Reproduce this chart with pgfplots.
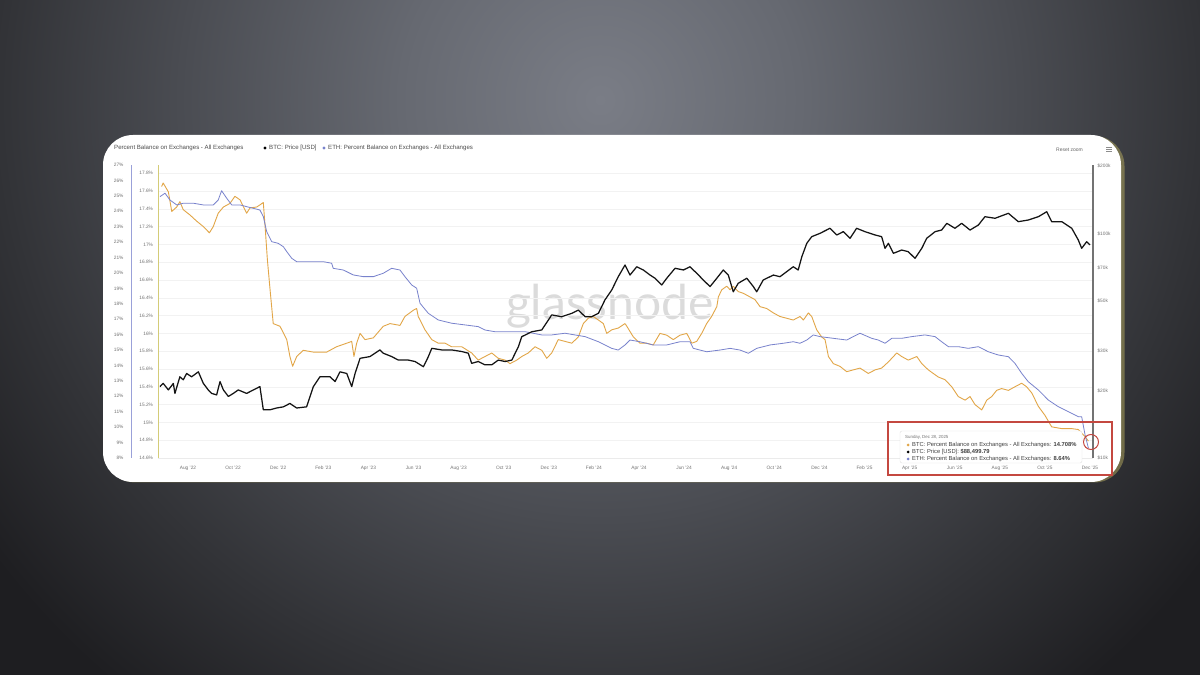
\documentclass[border=0pt]{standalone}
\usepackage{pgfplots}
\pgfplotsset{compat=1.18}
\usepackage{pgfplotstable}
\usepackage{fontspec}
\setmainfont{Liberation Sans}
\newfontfamily\wmfont{Lato}
\definecolor{btcc}{RGB}{226,166,72}
\definecolor{ethc}{RGB}{120,130,204}
\definecolor{bg0}{RGB}{122,125,134}
\definecolor{bg1}{RGB}{102,105,113}
\definecolor{bg2}{RGB}{74,76,82}
\definecolor{bg3}{RGB}{50,51,55}
\definecolor{bg4}{RGB}{30,30,33}
\definecolor{glow}{RGB}{180,170,95}
\definecolor{redbox}{RGB}{196,72,64}
\definecolor{btcaxis}{RGB}{212,204,120}
\pgfdeclareradialshading{bgshade}{\pgfpoint{0bp}{0bp}}{color(0bp)=(bg0); color(5bp)=(bg1); color(10.5bp)=(bg2); color(15bp)=(bg3); color(19bp)=(bg4); color(50bp)=(bg4)}
\newcommand{\tl}{\fontsize{4.8}{5}\selectfont}

\pgfplotstableread{
m v
-1.17 17.65
-1.10 17.69
-0.87 17.59
-0.72 17.37
-0.50 17.42
-0.36 17.48
-0.21 17.39
0.09 17.33
0.39 17.26
0.68 17.20
0.95 17.13
1.12 17.20
1.34 17.35
1.57 17.42
1.86 17.46
2.08 17.54
2.31 17.50
2.60 17.35
2.75 17.41
3.05 17.42
3.34 17.47
3.42 17.20
3.52 16.83
3.64 16.49
3.78 16.11
4.08 16.08
4.38 15.93
4.52 15.74
4.64 15.63
4.82 15.74
5.11 15.81
5.56 15.79
6.15 15.79
6.59 15.85
7.04 15.89
7.26 15.91
7.36 15.74
7.48 15.89
7.63 16.00
7.85 15.93
8.22 15.95
8.66 16.08
8.96 16.11
9.40 16.09
9.62 16.19
9.99 16.26
10.14 16.28
10.21 16.19
10.51 16.04
10.81 15.93
11.10 15.89
11.40 15.89
11.69 15.85
12.14 15.85
12.58 15.78
12.87 15.70
13.17 15.74
13.47 15.78
13.76 15.72
14.06 15.70
14.28 15.66
14.58 15.70
14.80 15.74
15.09 15.78
15.39 15.85
15.69 15.81
15.91 15.72
16.13 15.78
16.42 15.93
16.72 15.91
17.02 15.89
17.31 15.96
17.53 16.11
17.75 16.17
17.97 16.19
18.20 16.15
18.42 16.11
18.57 16.00
18.79 16.04
19.08 16.06
19.38 16.11
19.46 16.08
19.75 15.96
20.04 15.89
20.34 15.89
20.63 15.87
20.93 16.00
21.23 15.98
21.52 15.93
21.82 15.98
22.12 16.00
22.34 15.89
22.56 15.91
22.78 16.00
23.00 16.11
23.22 16.19
23.45 16.30
23.52 16.41
23.67 16.49
23.89 16.53
24.04 16.49
24.18 16.53
24.40 16.47
24.63 16.45
24.92 16.41
25.14 16.38
25.37 16.30
25.66 16.28
25.96 16.23
26.25 16.19
26.55 16.17
26.84 16.15
27.14 16.19
27.29 16.15
27.51 16.23
27.66 16.19
27.88 16.04
28.10 15.96
28.25 15.93
28.40 15.74
28.62 15.66
28.91 15.63
29.21 15.57
29.50 15.59
29.80 15.61
30.17 15.55
30.47 15.59
30.76 15.61
31.06 15.68
31.43 15.78
31.65 15.74
31.94 15.70
32.32 15.74
32.54 15.66
32.83 15.59
33.27 15.51
33.57 15.48
33.87 15.40
34.16 15.29
34.46 15.25
34.68 15.29
34.90 15.20
35.20 15.14
35.42 15.25
35.64 15.29
35.86 15.36
36.08 15.38
36.38 15.36
36.67 15.40
36.97 15.44
37.19 15.40
37.42 15.33
37.71 15.18
38.00 15.08
38.30 14.95
38.75 14.93
39.19 14.93
39.48 14.92
39.78 14.84
39.93 14.79
}\btctab

\pgfplotstableread{
m v
-1.24 24.95
-1.02 25.17
-0.80 24.73
-0.50 24.41
-0.21 24.52
0.24 24.52
0.68 24.41
1.12 24.41
1.34 24.73
1.49 25.33
1.72 24.84
1.94 24.41
2.31 24.41
2.60 24.30
2.90 24.19
3.19 24.08
3.34 23.65
3.49 22.68
3.71 22.03
4.00 21.92
4.23 21.70
4.38 21.38
4.60 20.95
4.82 20.73
5.41 20.73
6.00 20.73
6.37 20.63
6.44 20.30
6.89 20.19
7.33 19.87
7.77 19.76
8.22 19.76
8.66 19.98
9.03 20.30
9.40 20.19
9.62 19.76
9.92 19.22
10.14 19.01
10.29 18.03
10.66 17.38
11.10 16.95
11.69 16.74
12.28 16.63
12.87 16.52
13.17 16.30
13.61 16.19
14.36 16.19
14.95 16.19
15.69 15.98
16.13 15.98
16.72 16.09
17.16 15.98
17.61 15.87
18.20 15.54
18.79 15.11
19.08 15.00
19.38 15.33
19.60 15.65
20.04 15.54
20.63 15.33
21.23 15.33
21.82 15.54
22.26 15.54
22.41 15.11
23.00 14.89
23.59 15.00
24.04 15.11
24.48 15.00
24.85 14.79
25.22 15.11
25.81 15.33
26.40 15.44
26.84 15.54
27.14 15.44
27.44 15.65
27.73 15.98
28.03 15.87
28.62 15.76
29.21 15.65
29.50 15.87
29.80 16.09
30.32 15.76
30.61 15.65
30.91 15.44
31.21 15.76
31.65 15.76
32.09 15.87
32.68 15.98
33.13 15.87
33.42 15.54
33.72 15.22
34.16 15.22
34.60 15.11
35.05 15.22
35.49 14.89
35.93 14.68
36.38 14.57
36.67 14.14
36.97 13.49
37.26 12.95
37.71 12.41
38.15 11.76
38.59 11.33
39.04 11.00
39.48 10.68
39.63 10.68
39.78 9.50
39.93 8.64
}\ethtab

\pgfplotstableread{
m p
-1.24 20.8
-1.10 21.5
-0.87 20.1
-0.65 21.5
-0.58 19.4
-0.36 23.0
-0.21 22.3
-0.06 23.8
0.16 23.0
0.46 24.2
0.68 21.5
0.90 20.1
1.05 19.4
1.27 19.1
1.42 21.9
1.57 20.1
1.79 18.8
2.01 19.4
2.23 20.1
2.60 19.4
2.90 20.1
3.19 20.8
3.34 16.4
3.64 16.4
3.93 16.7
4.23 16.9
4.52 17.5
4.82 16.7
5.26 16.9
5.56 20.8
5.85 23.0
6.30 23.0
6.52 21.9
6.74 24.2
7.04 23.8
7.26 20.8
7.41 23.8
7.63 27.8
8.07 28.3
8.51 30.3
8.66 29.3
9.03 28.3
9.33 27.3
9.77 27.3
10.07 26.9
10.44 25.5
10.66 28.3
10.81 30.8
11.25 30.3
11.69 30.3
12.14 29.8
12.43 29.3
12.58 26.4
12.87 26.9
13.17 26.0
13.47 26.0
13.76 27.3
14.06 26.9
14.36 27.3
14.65 31.3
14.80 34.7
15.24 36.5
15.69 37.2
16.13 43.4
16.57 42.6
17.02 44.1
17.31 45.6
17.61 42.6
17.90 42.6
18.20 44.1
18.49 50.6
18.79 56.0
19.08 64.2
19.38 72.4
19.60 65.3
19.90 71.1
20.19 68.8
20.49 65.3
20.71 63.2
21.01 59.0
21.23 63.2
21.60 70.0
21.97 68.8
22.26 71.1
22.56 66.5
22.85 62.1
23.15 58.0
23.45 63.2
23.74 68.8
23.96 65.3
24.18 55.0
24.40 60.0
24.78 63.2
25.07 58.0
25.22 55.0
25.51 62.1
25.96 65.3
26.25 64.2
26.55 67.6
26.84 71.1
27.06 68.8
27.22 78.8
27.44 90.4
27.66 96.8
28.03 100.2
28.47 105.5
28.77 98.5
29.06 101.9
29.36 95.2
29.65 105.5
30.02 101.9
30.47 98.5
30.76 96.8
30.91 85.9
31.06 90.4
31.28 81.6
31.65 84.4
31.94 83.0
32.24 77.5
32.54 85.9
32.76 95.2
33.13 101.9
33.42 103.6
33.65 111.0
34.01 105.5
34.31 111.0
34.68 103.6
35.05 109.1
35.34 118.8
35.79 116.9
36.38 123.0
36.82 112.9
37.26 114.8
37.71 118.8
38.08 125.0
38.30 112.9
38.75 112.9
39.19 105.5
39.48 93.6
39.63 85.9
39.85 91.9
40.00 89.0
}\pricetab

\pgfplotsset{
  base/.style={
    scale only axis, height=293pt, anchor=south west,
    major tick length=0pt,
    /pgf/number format/assume math mode=true,
    tick label style={font=\tl, text=black!55},
  }
}

\begin{document}
\begin{tikzpicture}
\begin{scope}[x=1pt,y=1pt]
\useasboundingbox (0,0) rectangle (1200,675);
\begin{scope}
  \clip (0,0) rectangle (1200,675);
  \shade[shading=bgshade] (600,575) circle (1000);
\end{scope}
\fill[glow, opacity=0.5, rounded corners=30pt] (105.5,192.5) rectangle (1124.5,539);
\fill[white, rounded corners=30pt] (103,193) rectangle (1121,540);
\node[anchor=base, font=\wmfont\fontsize{48}{48}\selectfont, text=black!14, inner sep=0pt] at (610,355) {glassnode};
\end{scope}

% BTC percent axis (with grid and x labels)
\begin{axis}[base, at={(158pt,217pt)}, width=935pt,
  xmin=-1.330, xmax=40.133, ymin=14.6, ymax=17.892,
  axis y line*=left, axis x line*=bottom,
  y axis line style={draw=btcaxis, line width=1pt, -},
  x axis line style={draw=black!8, -},
  ytick={14.6,14.8,15,15.2,15.4,15.6,15.8,16,16.2,16.4,16.6,16.8,17,17.2,17.4,17.6,17.8},
  yticklabels={14.6\%,14.8\%,15\%,15.2\%,15.4\%,15.6\%,15.8\%,16\%,16.2\%,16.4\%,16.6\%,16.8\%,17\%,17.2\%,17.4\%,17.6\%,17.8\%},
  yticklabel style={xshift=-1.5pt},
  ymajorgrids, grid style={draw=black!5, line width=0.4pt},
  xtick={0,2,...,40},
  xticklabels={Aug '22,Oct '22,Dec '22,Feb '23,Apr '23,Jun '23,Aug '23,Oct '23,Dec '23,Feb '24,Apr '24,Jun '24,Aug '24,Oct '24,Dec '24,Feb '25,Apr '25,Jun '25,Aug '25,Oct '25,Dec '25},
  xticklabel style={yshift=-4pt, text height=3.6pt, text depth=1pt},
]
\addplot[btcc, line width=0.9pt, line join=round] table[x=m, y=v] {\btctab};
\end{axis}

% ETH percent axis
\begin{axis}[base, at={(131pt,217pt)}, width=962pt,
  xmin=-2.5277, xmax=40.133, ymin=8, ymax=27,
  axis x line=none, axis y line*=left,
  y axis line style={draw=ethc!75, line width=1pt, -},
  ytick={8,9,...,27},
  yticklabels={8\%,9\%,10\%,11\%,12\%,13\%,14\%,15\%,16\%,17\%,18\%,19\%,20\%,21\%,22\%,23\%,24\%,25\%,26\%,27\%},
  yticklabel style={xshift=-4pt},
]
\addplot[ethc, line width=0.8pt, line join=round] table[x=m, y=v] {\ethtab};
\end{axis}

% BTC price axis (log)
\begin{axis}[base, at={(158pt,217pt)}, width=935pt,
  xmin=-1.330, xmax=40.133, ymode=log, ymin=10, ymax=201.9,
  axis x line=none, axis y line*=right,
  y axis line style={draw=black!55, line width=1.4pt, -},
  ytick={10,20,30,50,70,100,200},
  yticklabels={\$10k,\$20k,\$30k,\$50k,\$70k,\$100k,\$200k},
  yticklabel style={xshift=1pt},
]
\addplot[black!92, line width=1.25pt, line join=round] table[x=m, y=p] {\pricetab};
\end{axis}

\begin{scope}[x=1pt,y=1pt]
\begin{scope}[every node/.style={anchor=west, font=\fontsize{6.1}{6.5}\selectfont, text=black!70, inner sep=0pt}]
  \node at (114,527) {Percent Balance on Exchanges - All Exchanges};
  \fill[black] (265,527) circle (1.6);
  \node at (269,527) {BTC: Price [USD]};
  \fill[ethc] (324,527) circle (1.6);
  \node at (328,527) {ETH: Percent Balance on Exchanges - All Exchanges};
  \node[font=\fontsize{5}{5.5}\selectfont, text=black!60] at (1056,525) {Reset zoom};
\end{scope}
\draw[black!45, line width=0.5pt] (1106,527.5) -- (1112,527.5) (1106,525.5) -- (1112,525.5) (1106,523.5) -- (1112,523.5);
\fill[white, draw=black!12, line width=0.4pt, rounded corners=2pt] (900,212) rectangle (1082,244);
\begin{scope}[every node/.style={anchor=west, font=\fontsize{5.8}{6.2}\selectfont, text=black!75, inner sep=0pt}]
  \node[font=\fontsize{4.4}{5}\selectfont, text=black!55] at (905,238) {Sunday, Dec 28, 2025};
  \fill[btcc] (908,230) circle (1.5);
  \node at (912,230) {BTC: Percent Balance on Exchanges - All Exchanges: \textbf{14.708\%}};
  \fill[black] (908,223) circle (1.5);
  \node at (912,223) {BTC: Price [USD]: \textbf{\$88,499.79}};
  \fill[ethc] (908,216) circle (1.5);
  \node at (912,216) {ETH: Percent Balance on Exchanges - All Exchanges: \textbf{8.64\%}};
\end{scope}
\draw[redbox, line width=1.1pt] (888,200) rectangle (1112,253);
\draw[redbox, line width=1pt] (1091,233) circle (7.5);
\end{scope}
\end{tikzpicture}
\end{document}
